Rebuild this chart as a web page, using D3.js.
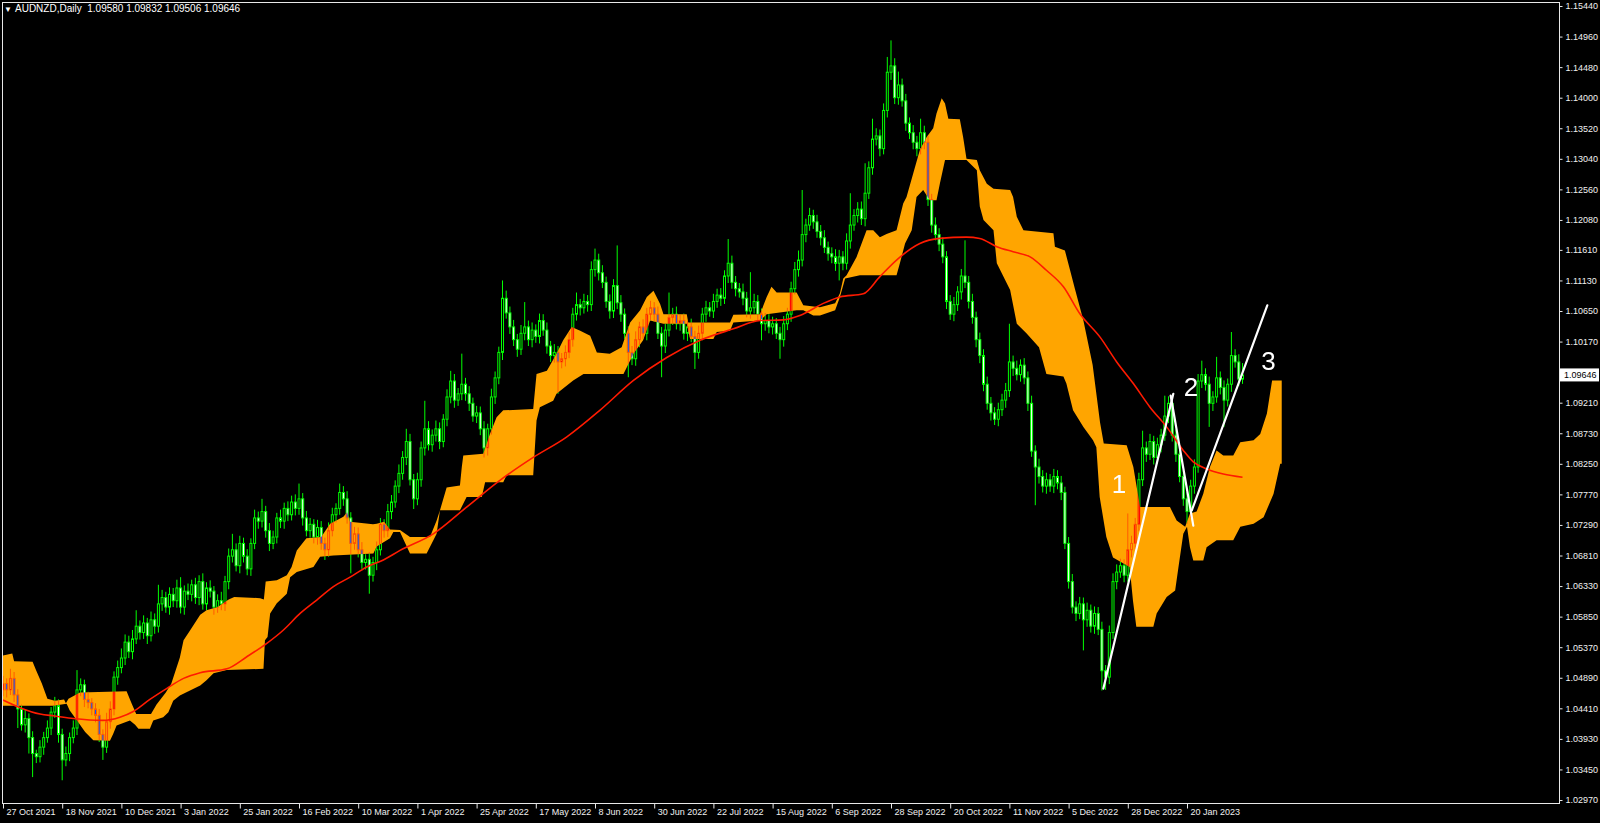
<!DOCTYPE html>
<html>
<head>
<meta charset="utf-8">
<script src="https://cdn.jsdelivr.net/npm/d3@7"></script>
<style>
  body { margin: 0; background: #000; overflow: hidden; }
  svg { display: block; }
  text { font-family: "Liberation Sans", Arial, sans-serif; }
</style>
</head>
<body>
<div id="chart"></div>
<script>
// AUDNZD daily closes, one row per 16 bars (one date label each)
var closes = [
  1.0480,1.0470,1.0488,1.0462,1.0440,1.0415,1.0425,1.0395,1.0370,1.0365,1.0380,1.0395,1.0410,1.0435,1.0445,1.0400,
  1.0360,1.0370,1.0395,1.0410,1.0470,1.0478,1.0455,1.0450,1.0440,1.0430,1.0400,1.0380,1.0420,1.0440,1.0490,1.0505,
  1.0520,1.0545,1.0530,1.0550,1.0570,1.0560,1.0575,1.0555,1.0580,1.0570,1.0605,1.0615,1.0600,1.0620,1.0610,1.0630,
  1.0600,1.0625,1.0620,1.0635,1.0615,1.0640,1.0605,1.0630,1.0625,1.0600,1.0610,1.0605,1.0640,1.0680,1.0690,1.0665,
  1.0700,1.0680,1.0660,1.0700,1.0740,1.0735,1.0750,1.0720,1.0700,1.0710,1.0740,1.0735,1.0755,1.0745,1.0765,1.0755,
  1.0770,1.0740,1.0720,1.0730,1.0710,1.0725,1.0700,1.0690,1.0720,1.0745,1.0755,1.0780,1.0770,1.0740,1.0700,1.0715,
  1.0690,1.0670,1.0675,1.0650,1.0670,1.0690,1.0730,1.0720,1.0750,1.0765,1.0790,1.0810,1.0835,1.0860,1.0800,1.0770,
  1.0800,1.0850,1.0880,1.0855,1.0870,1.0880,1.0860,1.0895,1.0930,1.0955,1.0925,1.0935,1.0950,1.0935,1.0920,1.0900,
  1.0905,1.0880,1.0850,1.0880,1.0930,1.0960,1.1000,1.1085,1.1062,1.1040,1.1020,1.1005,1.1030,1.1040,1.1020,1.1035,
  1.1025,1.1050,1.1035,1.1010,1.0995,1.1000,1.0985,1.0990,1.1000,1.1020,1.1060,1.1075,1.1070,1.1080,1.1075,1.1130,
  1.1145,1.1125,1.1110,1.1080,1.1065,1.1105,1.1078,1.1060,1.1030,1.1000,1.0990,1.1020,1.1040,1.1030,1.1060,1.1070,
  1.1060,1.1030,1.1010,1.1035,1.1055,1.1060,1.1045,1.1050,1.1030,1.1040,1.1025,1.1000,1.1030,1.1060,1.1070,1.1065,
  1.1080,1.1090,1.1085,1.1120,1.1140,1.1110,1.1100,1.1095,1.1085,1.1065,1.1070,1.1080,1.1060,1.1045,1.1050,1.1040,
  1.1045,1.1030,1.1020,1.1045,1.1060,1.1100,1.1130,1.1145,1.1185,1.1200,1.1215,1.1205,1.1190,1.1180,1.1165,1.1155,
  1.1150,1.1140,1.1150,1.1140,1.1175,1.1200,1.1215,1.1225,1.1210,1.1250,1.1290,1.1335,1.1340,1.1320,1.1380,1.1440,
  1.1450,1.1400,1.1420,1.1395,1.1360,1.1345,1.1330,1.1320,1.1345,1.1330,1.1240,1.1200,1.1185,1.1170,1.1150,1.1080,
  1.1060,1.1075,1.1095,1.1120,1.1110,1.1080,1.1055,1.1020,1.0995,1.0950,1.0920,1.0905,1.0895,1.0910,1.0925,1.0940,
  1.0985,1.0975,1.0965,1.0980,1.0960,1.0920,1.0845,1.0820,1.0805,1.0790,1.0800,1.0790,1.0805,1.0795,1.0780,1.0700,
  1.0640,1.0600,1.0590,1.0605,1.0580,1.0595,1.0570,1.0590,1.0565,1.0500,1.0490,1.0560,1.0640,1.0655,1.0665,1.0650,
  1.0690,1.0700,1.0730,1.0800,1.0850,1.0840,1.0860,1.0835,1.0855,1.0870,1.0900,1.0920,1.0870,1.0840,1.0805,1.0770,
  1.0750,1.0790,1.0820,1.0955,1.0965,1.0950,1.0920,1.0930,1.0960,1.0945,1.0925,1.0950,1.0995,1.0985,1.09580,1.09646
];
var firstOpen = 1.0470;

// upper / lower wick length in pips beyond the body
var upWick = [
  12,8,15,10,9,7,14,8,10,6,11,9,12,8,14,10,
  9,11,8,12,31,10,8,12,7,9,10,8,14,12,9,11,
  15,12,10,14,25,9,12,8,13,10,30,12,9,11,10,13,
  17,9,12,8,11,10,13,9,12,8,10,14,9,12,25,10,
  12,9,11,8,13,10,20,9,12,10,8,13,9,11,10,12,
  24,9,11,10,8,12,10,9,13,11,8,14,10,12,9,11,
  10,12,8,11,9,13,10,8,12,11,9,14,10,20,12,9,
  11,10,44,12,9,13,10,8,12,16,11,9,48,10,12,9,
  11,10,12,8,13,10,9,28,12,10,11,9,13,39,10,12,
  9,11,10,12,8,13,10,9,11,12,10,19,9,12,10,13,
  18,10,12,9,11,10,63,12,9,11,10,13,8,12,10,11,
  9,12,10,11,39,10,12,9,11,10,13,9,12,10,11,9,
  12,10,11,9,38,12,10,9,13,10,56,12,10,9,12,10,
  11,9,10,12,10,11,12,15,70,10,12,9,11,10,12,9,
  10,12,11,9,12,50,10,11,12,47,10,32,12,10,11,24,
  40,12,21,10,11,9,12,10,22,11,10,9,12,10,11,9,
  10,12,9,11,56,10,12,9,11,10,12,10,9,11,10,12,
  60,10,12,9,11,10,12,9,13,10,11,9,12,10,11,9,
  10,12,9,11,10,12,9,11,10,12,9,11,13,12,11,10,
  57,12,10,11,27,10,12,9,11,10,32,11,10,9,12,10,
  11,10,12,11,22,10,12,9,33,10,11,9,37,10,12,18.6
];
var downWick = [
  10,12,8,11,30,9,12,25,37,10,9,12,8,11,9,13,
  32,10,12,9,11,10,12,9,10,11,12,20,9,11,10,12,
  9,11,10,12,8,11,10,13,9,12,10,11,9,12,10,11,
  10,12,9,11,10,12,9,11,10,12,9,10,11,12,10,9,
  12,10,10,11,9,12,10,11,12,9,10,11,12,10,9,11,
  10,12,9,11,10,12,10,16,11,9,12,10,11,9,47,10,
  12,10,11,29,10,12,9,11,10,12,9,11,10,12,9,16,
  10,11,12,9,11,10,12,9,11,10,12,9,10,11,12,9,
  11,10,15,12,9,11,10,12,9,11,10,12,9,11,10,12,
  10,11,9,12,10,11,50,10,12,9,11,10,12,9,11,10,
  11,12,9,10,12,11,10,12,9,39,10,11,12,9,11,10,
  12,9,49,11,10,12,9,11,10,12,9,26,10,11,12,9,
  11,10,12,9,11,10,12,9,11,10,12,9,10,26,11,10,
  12,9,30,11,10,12,9,11,10,12,9,11,10,12,9,11,
  10,12,27,11,10,12,9,11,10,12,9,11,10,12,9,11,
  12,10,11,9,12,10,11,12,9,11,10,12,9,11,10,12,
  9,11,10,12,9,11,10,12,12,11,10,12,9,11,10,12,
  10,12,9,11,10,12,9,60,11,10,12,9,11,10,12,9,
  11,10,12,9,48,11,10,12,9,31,20,11,10,12,9,11,
  10,12,9,11,10,12,9,11,10,12,9,11,10,12,9,11,
  19,10,12,9,11,10,37,12,9,11,42,10,12,9,11,7.4
];

// cloud edges as [bar, price]
var cloudTop = [
  [0,1.0524],[2.5,1.0527],[3,1.0515],[8,1.0514],[9,1.0500],[10.5,1.0480],[12,1.0456],[14,1.0453],[16.5,1.0455],
  [17,1.0449],[17.7,1.0456],[20.8,1.0466],[33.4,1.0468],[34.8,1.0448],[36,1.0432],[40,1.0432],[41.5,1.0447],
  [44,1.0466],[45.5,1.0480],[47.8,1.0521],[48.8,1.0548],[50.5,1.0563],[53.3,1.0588],[55,1.0595],[58,1.0600],
  [61,1.0612],[62.5,1.0616],[69.5,1.0614],[70.5,1.0612],[71,1.0640],[74,1.0642],[76.7,1.0650],[78,1.0663],
  [79.4,1.0689],[82,1.0708],[86,1.0710],[88.4,1.0731],[92,1.0742],[93,1.0749],[93.8,1.0734],[100,1.0730],
  [101,1.0731],[103,1.0734],[104.6,1.0722],[107.3,1.0721],[110,1.0710],[115.4,1.0710],[117.2,1.0736],
  [118.1,1.0752],[119.9,1.0788],[123.5,1.0791],[124,1.0820],[124.4,1.0838],[129.8,1.0841],[131.6,1.0872],
  [133.4,1.0898],[135.2,1.0909],[143.3,1.0911],[144.2,1.0966],[147,1.0971],[149.6,1.0998],[151.4,1.1019],
  [153.7,1.1040],[156,1.1034],[158.7,1.1026],[160.5,1.1000],[164,1.0998],[167.2,1.1008],[169.5,1.1047],
  [172.2,1.1066],[174,1.1087],[175.8,1.1097],[177.6,1.1076],[178.5,1.1060],[184.8,1.1060],[185.2,1.1047],
  [196.5,1.1047],[197.4,1.1059],[204.6,1.1060],[206.4,1.1087],[207.7,1.1103],[209.1,1.1094],[214.5,1.1094],
  [216.3,1.1074],[220.8,1.1071],[224.9,1.1077],[226.2,1.1093],[227.1,1.1116],[228,1.1121],[230.7,1.1150],
  [233.4,1.1192],[235.2,1.1192],[237,1.1181],[238.8,1.1186],[241.5,1.1192],[243.3,1.1234],[244.2,1.1244],
  [246,1.1281],[247.8,1.1318],[249.6,1.1338],[251.4,1.1352],[252.3,1.1375],[253.7,1.1399],[254.6,1.1391],
  [255.5,1.1367],[258.6,1.1366],[259.5,1.1338],[260.4,1.1304],[263.2,1.1302],[264,1.1286],[265.9,1.1265],
  [267.7,1.1257],[272.2,1.1255],[273,1.1244],[274,1.1213],[275.8,1.1192],[283.9,1.1187],[284.3,1.1166],
  [287,1.1160],[288.4,1.1129],[289.7,1.1100],[292,1.1050],[294.5,1.0980],[296.5,1.0890],[297.5,1.0857],
  [303.7,1.0854],[305.5,1.0820],[307.3,1.0757],[315.4,1.0757],[317.2,1.0736],[319.5,1.0726],[320.8,1.0747],
  [322.6,1.0750],[324.4,1.0778],[326.2,1.0820],[328,1.0846],[329.8,1.0838],[332.5,1.0838],[334.4,1.0859],
  [338,1.0862],[339.8,1.0872],[341.6,1.0904],[343,1.0956],[345.6,1.0956]
];
var cloudBottom = [
  [0,1.0445],[13.6,1.0445],[17.2,1.0448],[18,1.0438],[20,1.0422],[22.2,1.0404],[24.4,1.0391],[28.9,1.0390],
  [29.8,1.0401],[30.7,1.0414],[34.3,1.0422],[35.7,1.0415],[36.6,1.0409],[39.7,1.0409],[40.6,1.0422],
  [43.3,1.0427],[44.7,1.0435],[46,1.0453],[47.8,1.0461],[53.3,1.0477],[55,1.0485],[56.9,1.0496],[60.5,1.0501],
  [70.4,1.0503],[70.8,1.0548],[71.5,1.0553],[72.2,1.0590],[74,1.0606],[76.7,1.0621],[77.6,1.0647],[79.4,1.0655],
  [83.9,1.0663],[85.7,1.0679],[89.3,1.0681],[100.1,1.0684],[101,1.0695],[104.6,1.0708],[105.5,1.0718],
  [107.3,1.0718],[110,1.0684],[114.5,1.0684],[117.2,1.0715],[118.1,1.0752],[123.5,1.0752],[125.3,1.0773],
  [129.4,1.0773],[130.3,1.0796],[135.2,1.0796],[136.1,1.0807],[143.3,1.0807],[144.2,1.0893],[145.1,1.0914],
  [148.7,1.0924],[149.6,1.0935],[154.1,1.0956],[156.9,1.0966],[167.7,1.0966],[170.4,1.0998],[173,1.1019],
  [174.9,1.1050],[178.5,1.1045],[184.8,1.1045],[185.7,1.1021],[192,1.1021],[192.9,1.1032],[196.5,1.1034],
  [197.4,1.1047],[204.6,1.1050],[206.4,1.1060],[214.5,1.1066],[216.3,1.1066],[219,1.1058],[220.8,1.1058],
  [224.9,1.1066],[226.2,1.1087],[227.6,1.1116],[231.6,1.1121],[241.5,1.1121],[242.4,1.1140],[243.8,1.1171],
  [245.6,1.1192],[246.9,1.1244],[248.7,1.1255],[250.5,1.1239],[252.3,1.1239],[253.2,1.1265],[254.6,1.1302],
  [260.4,1.1302],[263.2,1.1286],[264,1.1229],[265,1.1208],[267.7,1.1192],[268.6,1.1140],[272.2,1.1098],
  [274,1.1045],[276.6,1.1030],[280,1.1008],[282,1.0966],[286.6,1.0962],[287.4,1.0951],[289.2,1.0909],
  [292,1.0883],[294.6,1.0862],[295.5,1.0851],[296.4,1.0773],[298.2,1.0710],[300,1.0678],[304.5,1.0663],
  [305.4,1.0610],[306.3,1.0569],[310.9,1.0569],[311.8,1.0590],[314.5,1.0616],[316.8,1.0626],[317.7,1.0663],
  [319,1.0715],[320,1.0726],[320.8,1.0694],[321.7,1.0673],[324.4,1.0673],[325.3,1.0694],[328,1.0705],
  [332.5,1.0705],[334.4,1.0726],[338,1.0731],[340.7,1.0741],[343.4,1.0778],[345.2,1.0825],[345.6,1.0825]
];

// red moving average, [bar, price]
var maLine = [
  [0,1.0454],[4.6,1.0442],[10,1.0432],[14,1.0429],[19,1.0425],[27,1.0422],[31.6,1.0427],[35.2,1.0436],
  [39.7,1.0455],[44.2,1.0472],[48.8,1.0488],[53.3,1.0497],[60.5,1.0503],[65.9,1.0522],[71.3,1.0543],
  [75.8,1.0564],[80.3,1.0590],[84.8,1.0611],[89.3,1.0632],[93.8,1.0647],[98.3,1.0663],[102.8,1.0674],
  [107.3,1.0689],[116.3,1.0715],[125.3,1.0757],[134.3,1.0799],[143.3,1.0835],[152.3,1.0867],[161.3,1.0909],
  [170.4,1.0956],[179.4,1.0992],[188.4,1.1019],[197.4,1.1037],[204.6,1.1050],[210.9,1.1051],[215.4,1.1058],
  [221.7,1.1077],[226.2,1.1087],[232.5,1.1092],[237,1.1119],[241.5,1.1145],[247.8,1.1171],[253.2,1.1179],
  [260.4,1.1181],[264,1.1179],[268.6,1.1166],[273,1.1158],[277.6,1.1150],[282,1.1129],[286.6,1.1103],
  [291,1.1061],[296.5,1.1024],[301,1.0985],[305.5,1.0951],[310,1.0914],[314.5,1.0883],[319,1.0846],
  [321.7,1.0828],[325.3,1.0817],[329.8,1.0809],[335,1.0804]
];

// hand drawn wave lines and their numbers
var waveLines = [
  [[297.4,1.0472],[316.3,1.0935]],
  [[315.6,1.0932],[321.7,1.0728]],
  [[321.3,1.0752],[341.7,1.1074]]
];
var waveLabels = [["1",301.6,1.0794],["2",321.1,1.0946],["3",342,1.0987]];

var priceTicks = [1.15440,1.14960,1.14480,1.14000,1.13520,1.13040,1.12560,1.12080,1.11610,1.11130,1.10650,
  1.10170,1.09210,1.08730,1.08250,1.07770,1.07290,1.06810,1.06330,1.05850,1.05370,1.04890,1.04410,
  1.03930,1.03450,1.02970];
var dateBars = [0,16,32,48,64,80,96,112,128,144,160,176,192,208,224,240,256,272,288,304,320];
var dateLabels = ["27 Oct 2021","18 Nov 2021","10 Dec 2021","3 Jan 2022","25 Jan 2022","16 Feb 2022",
  "10 Mar 2022","1 Apr 2022","25 Apr 2022","17 May 2022","8 Jun 2022","30 Jun 2022","22 Jul 2022",
  "15 Aug 2022","6 Sep 2022","28 Sep 2022","20 Oct 2022","11 Nov 2022","5 Dec 2022","28 Dec 2022","20 Jan 2023"];
var headerText = "AUDNZD,Daily  1.09580 1.09832 1.09506 1.09646";
var lastPrice = 1.09646;

var svgWidth = 1600, svgHeight = 823;
var plot = { left: 2, top: 2, right: 1559, bottom: 803 };

var svg = d3.select("#chart").append("svg")
  .attr("width", svgWidth)
  .attr("height", svgHeight);

svg.append("rect").attr("width", svgWidth).attr("height", svgHeight).attr("fill", "#000");

var x = d3.scaleLinear().domain([0, 345]).range([3, 3 + 3.7 * 345]);
var y = d3.scaleLinear().domain([1.02923, 1.15503]).range([plot.bottom, plot.top]);

svg.append("clipPath").attr("id", "plotClip")
  .append("rect")
  .attr("x", plot.left + 1).attr("y", plot.top + 1)
  .attr("width", plot.right - plot.left - 1).attr("height", plot.bottom - plot.top - 1);

var chartGroup = svg.append("g").attr("clip-path", "url(#plotClip)");

// cloud: top edge forward, bottom edge back
var edge = d3.line().x(d => x(d[0])).y(d => y(d[1]));
chartGroup.append("path")
  .attr("d", edge(cloudTop.concat(cloudBottom.slice().reverse())) + "Z")
  .attr("fill", "#ffa500");

// candles
var bars = closes.map(function(c, i) {
  var o = i ? closes[i - 1] : firstOpen;
  return {
    i: i, open: o, close: c,
    high: Math.max(o, c) + upWick[i] / 10000,
    low: Math.min(o, c) - downWick[i] / 10000
  };
});

var candleGroup = chartGroup.append("g").style("mix-blend-mode", "difference");

candleGroup.selectAll(".wick")
  .data(bars)
  .enter()
  .append("line")
  .attr("x1", d => x(d.i)).attr("x2", d => x(d.i))
  .attr("y1", d => y(d.high)).attr("y2", d => y(d.low))
  .attr("stroke", "#00ff00")
  .attr("stroke-width", 1);

candleGroup.selectAll(".body")
  .data(bars)
  .enter()
  .append("rect")
  .attr("x", d => x(d.i) - 1)
  .attr("width", 2)
  .attr("y", d => y(Math.max(d.open, d.close)))
  .attr("height", d => Math.max(0.8, y(Math.min(d.open, d.close)) - y(Math.max(d.open, d.close))))
  .attr("fill", d => d.close < d.open ? "#ffffff" : "#000000")
  .attr("stroke", "#00ff00")
  .attr("stroke-width", 1);

// moving average
chartGroup.append("path")
  .datum(maLine)
  .attr("d", d3.line().x(d => x(d[0])).y(d => y(d[1])).curve(d3.curveMonotoneX))
  .attr("fill", "none")
  .attr("stroke", "#ff1a00")
  .attr("stroke-width", 1.6);

// wave lines
chartGroup.selectAll(".wave")
  .data(waveLines)
  .enter()
  .append("line")
  .attr("x1", d => x(d[0][0])).attr("y1", d => y(d[0][1]))
  .attr("x2", d => x(d[1][0])).attr("y2", d => y(d[1][1]))
  .attr("stroke", "#ffffff")
  .attr("stroke-width", 2.2)
  .attr("stroke-linecap", "round");

chartGroup.selectAll(".waveLabel")
  .data(waveLabels)
  .enter()
  .append("text")
  .attr("x", d => x(d[1]))
  .attr("y", d => y(d[2]))
  .attr("text-anchor", "middle")
  .attr("dominant-baseline", "central")
  .attr("fill", "#ffffff")
  .attr("font-size", "26px")
  .text(d => d[0]);

// frame
svg.append("rect")
  .attr("x", plot.left + 0.5).attr("y", plot.top + 0.5)
  .attr("width", plot.right - plot.left).attr("height", plot.bottom - plot.top)
  .attr("fill", "none")
  .attr("stroke", "#e8e8e8")
  .attr("stroke-width", 1);

// price axis
var priceAxis = svg.append("g")
  .attr("transform", `translate(${plot.right + 0.5}, 0)`)
  .call(d3.axisRight(y).tickValues(priceTicks).tickSize(3).tickFormat(d3.format(".5f")));
priceAxis.select(".domain").remove();
priceAxis.selectAll("line").attr("stroke", "#e8e8e8");
priceAxis.selectAll("text")
  .attr("fill", "#f0f0f0")
  .attr("font-size", "9px")
  .attr("x", 6)
  .attr("font-family", "Liberation Sans, Arial, sans-serif");

// last price box
svg.append("rect")
  .attr("x", plot.right + 1).attr("y", y(lastPrice) - 6.5)
  .attr("width", 39).attr("height", 13)
  .attr("fill", "#ffffff");
svg.append("text")
  .attr("x", plot.right + 5).attr("y", y(lastPrice))
  .attr("dy", "0.35em")
  .attr("fill", "#000")
  .attr("font-size", "9px")
  .text(d3.format(".5f")(lastPrice));

// date axis
var dateAxis = svg.append("g")
  .attr("transform", `translate(0, ${plot.bottom + 0.5})`)
  .call(d3.axisBottom(x).tickValues(dateBars).tickSize(5).tickFormat((d, k) => dateLabels[k]));
dateAxis.select(".domain").remove();
dateAxis.selectAll("line").attr("stroke", "#e8e8e8");
dateAxis.selectAll("text")
  .attr("fill", "#f0f0f0")
  .attr("font-size", "9px")
  .attr("font-family", "Liberation Sans, Arial, sans-serif")
  .attr("text-anchor", "start")
  .attr("x", 3)
  .attr("y", 5);

// header
svg.append("text")
  .attr("x", 4).attr("y", 12)
  .attr("fill", "#ffffff")
  .attr("font-size", "8px")
  .text("\u25BC");
svg.append("text")
  .attr("x", 15).attr("y", 12)
  .attr("fill", "#ffffff")
  .attr("font-size", "10px")
  .style("white-space", "pre")
  .text(headerText);
</script>
</body>
</html>
